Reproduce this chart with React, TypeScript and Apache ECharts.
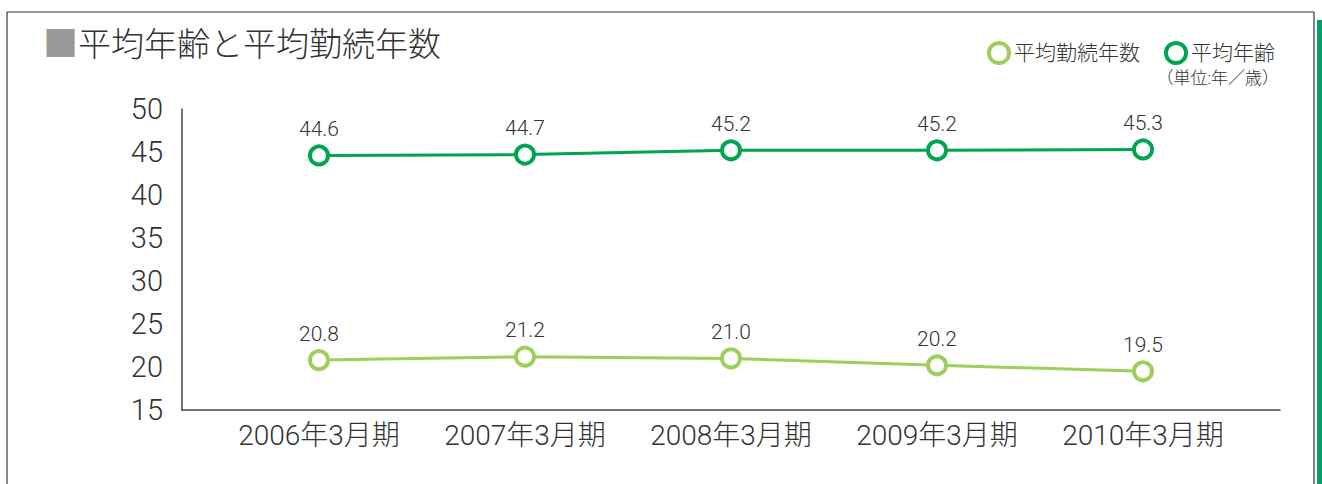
import React, { useEffect, useRef } from "react";
import * as echarts from "echarts";

const categories = ["2006年3月期", "2007年3月期", "2008年3月期", "2009年3月期", "2010年3月期"];
const avgTenure = [20.8, 21.2, 21.0, 20.2, 19.5];
const avgAge = [44.6, 44.7, 45.2, 45.2, 45.3];
const yMin = 15;
const yMax = 50;
const yStep = 5;

const FONT = 'Roboto, "Noto Sans CJK JP", "Noto Sans", sans-serif';
const DARK = "#00a54f";
const LIGHT = "#9ccf5b";
const TEXT = "#333333";

export default function App() {
  const ref = useRef<HTMLDivElement>(null);
  useEffect(() => {
    document.body.style.margin = "0";
    const chart = echarts.init(ref.current!, null, { renderer: "svg" });
    const labelCfg = {
      show: true,
      position: "top" as const,
      distance: 5,
      fontSize: 21,
      color: TEXT,
      fontFamily: FONT,
      fontWeight: 300,
      formatter: (p: any) => Number(p.value).toFixed(1),
    };
    chart.setOption({
      animation: false,
      backgroundColor: "#ffffff",
      textStyle: { fontFamily: FONT },
      title: {
        text: "{a|■}{b|平均年齢と平均勤続年数}",
        left: 38,
        top: 22,
        textStyle: {
          rich: {
            a: { fontSize: 35, color: "#999999", fontFamily: FONT },
            b: { fontSize: 33, color: TEXT, fontFamily: FONT, fontWeight: 300 },
          },
        },
      },
      legend: {
        right: 42,
        top: 36,
        itemGap: 24,
        itemWidth: 20,
        itemHeight: 20,
        textStyle: { fontSize: 21, color: TEXT, fontFamily: FONT, fontWeight: 300 },
        data: [
          { name: "平均勤続年数", icon: "circle", itemStyle: { color: "#fff", borderColor: LIGHT, borderWidth: 4 } },
          { name: "平均年齢", icon: "circle", itemStyle: { color: "#fff", borderColor: DARK, borderWidth: 4 } },
        ],
      },
      grid: [
        { left: 182, right: 42, top: 109, bottom: 74 },
        { left: 216, right: 76, top: 109, bottom: 74 },
      ],
      xAxis: [
        {
          gridIndex: 0,
          type: "category",
          data: categories,
          axisLine: { lineStyle: { color: "#444", width: 1.5 } },
          axisTick: { show: false },
          axisLabel: { show: false },
        },
        {
          gridIndex: 1,
          type: "category",
          data: categories,
          boundaryGap: true,
          axisLine: { show: false },
          axisTick: { show: false },
          axisLabel: { interval: 0, hideOverlap: false, fontSize: 28, color: TEXT, margin: 11, fontFamily: FONT, fontWeight: 300 },
        },
      ],
      yAxis: [
        {
          gridIndex: 0,
          type: "value",
          min: yMin,
          max: yMax,
          interval: yStep,
          axisLine: { show: true, lineStyle: { color: "#444", width: 1.5 } },
          axisTick: { show: false },
          splitLine: { show: false },
          axisLabel: { fontSize: 29, color: TEXT, margin: 19, fontFamily: FONT, fontWeight: 300 },
        },
        {
          gridIndex: 1,
          type: "value",
          min: yMin,
          max: yMax,
          interval: yStep,
          show: false,
          splitLine: { show: false },
        },
      ],
      graphic: [
        { type: "line", shape: { x1: 7, y1: 12, x2: 1314, y2: 12 }, style: { stroke: "#333", lineWidth: 1.2 } },
        { type: "line", shape: { x1: 7, y1: 12, x2: 7, y2: 484 }, style: { stroke: "#333", lineWidth: 1.2 } },
        { type: "line", shape: { x1: 1314, y1: 12, x2: 1314, y2: 484 }, style: { stroke: "#333", lineWidth: 1.2 } },
        { type: "rect", shape: { x: 1317, y: 20, width: 5, height: 464 }, style: { fill: "#00a06c" } },
        {
          type: "text",
          x: 1279,
          y: 78,
          style: { text: "（単位:年／歳）", fontSize: 17, fill: TEXT, align: "right", verticalAlign: "middle", fontFamily: FONT, fontWeight: 300 },
        },
      ],
      series: [
        {
          name: "平均勤続年数",
          type: "line",
          xAxisIndex: 1,
          yAxisIndex: 1,
          data: avgTenure,
          symbol: "circle",
          symbolSize: 18,
          lineStyle: { color: LIGHT, width: 3 },
          itemStyle: { color: "#fff", borderColor: LIGHT, borderWidth: 4 },
          label: labelCfg,
        },
        {
          name: "平均年齢",
          type: "line",
          xAxisIndex: 1,
          yAxisIndex: 1,
          data: avgAge,
          symbol: "circle",
          symbolSize: 18,
          lineStyle: { color: DARK, width: 3 },
          itemStyle: { color: "#fff", borderColor: DARK, borderWidth: 4 },
          label: labelCfg,
        },
      ],
    });
    return () => chart.dispose();
  }, []);
  return <div ref={ref} style={{ width: 1322, height: 484 }} />;
}
